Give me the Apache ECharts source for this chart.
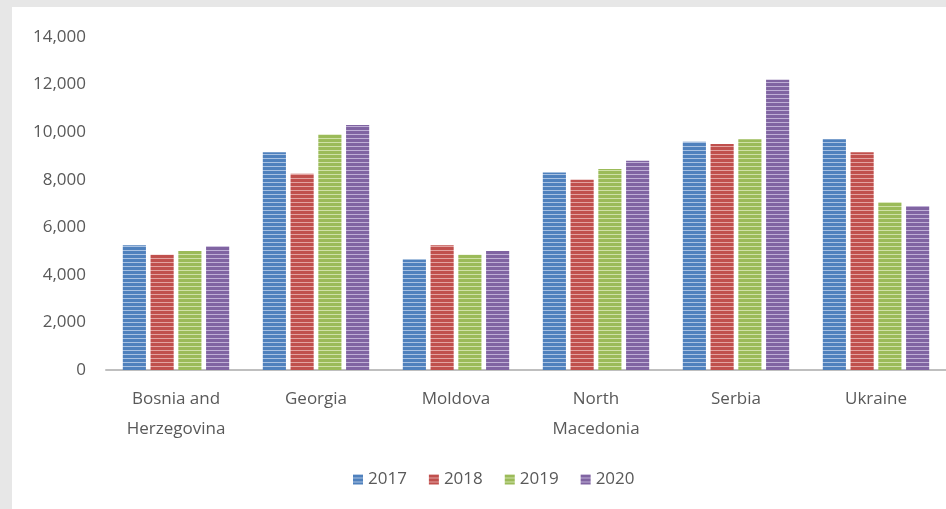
<!DOCTYPE html>
<html><head><meta charset="utf-8">
<script src="https://cdn.jsdelivr.net/npm/echarts@6/dist/echarts.min.js"></script>
<style>
html,body{margin:0;padding:0;background:#e7e7e7;width:946px;height:509px;overflow:hidden;}
#c{position:absolute;left:12px;top:7px;width:934px;height:502px;background:#fff;}
</style></head><body>
<div id="c"></div>
<script>
const categories = ['Bosnia and\nHerzegovina','Georgia','Moldova','North\nMacedonia','Serbia','Ukraine'];
const years = ['2017','2018','2019','2020'];
const v2017 = [5250, 9150, 4650, 8300, 9600, 9700];
const v2018 = [4850, 8250, 5250, 8000, 9500, 9150];
const v2019 = [5000, 9900, 4850, 8450, 9700, 7050];
const v2020 = [5200, 10300, 5000, 8800, 12200, 6900];
const yTicks = [0,2000,4000,6000,8000,10000,12000,14000];

const seriesValues = [v2017, v2018, v2019, v2020];
const baseColors = ['#4f81bd','#c0504d','#9bbb59','#8064a2'];
const lightColors = ['#a9c2e2','#e3a3a1','#cfe1a8','#bfafd6'];

function stripe(dark, light){
  const cv = document.createElement('canvas');
  cv.width = 4; cv.height = 4;
  const ctx = cv.getContext('2d');
  ctx.fillStyle = dark; ctx.fillRect(0,0,4,4);
  ctx.fillStyle = light; ctx.fillRect(0,3,4,1);
  return {image: cv, repeat: 'repeat'};
}

const chart = echarts.init(document.getElementById('c'));
const font = 'Open Sans';
chart.setOption({
  animation: false,
  grid: {left: 94, right: 0, top: 30, height: 333, containLabel: false},
  legend: {
    data: years, bottom: 16, left: 336,
    itemWidth: 10, itemHeight: 10, itemGap: 22,
    icon: 'rect',
    textStyle: {fontFamily: font, fontSize: 17, color: '#595959'}
  },
  xAxis: {
    type: 'category', data: categories,
    axisLine: {lineStyle: {color: '#bfbfbf', width: 2}},
    axisTick: {show: false},
    axisLabel: {fontFamily: font, fontSize: 17, color: '#595959', lineHeight: 30, margin: 14, interval: 0}
  },
  yAxis: {
    type: 'value', min: yTicks[0], max: yTicks[yTicks.length-1], interval: 2000,
    splitLine: {show: false},
    axisLine: {show: false}, axisTick: {show: false},
    axisLabel: {fontFamily: font, fontSize: 17, color: '#595959', margin: 20,
      formatter: v => v.toLocaleString('en-US')}
  },
  series: years.map((y, i) => ({
    name: y, type: 'bar', data: seriesValues[i],
    barGap: '20%', barCategoryGap: '24%',
    itemStyle: {color: stripe(baseColors[i], lightColors[i])}
  }))
});
</script>
</body></html>
